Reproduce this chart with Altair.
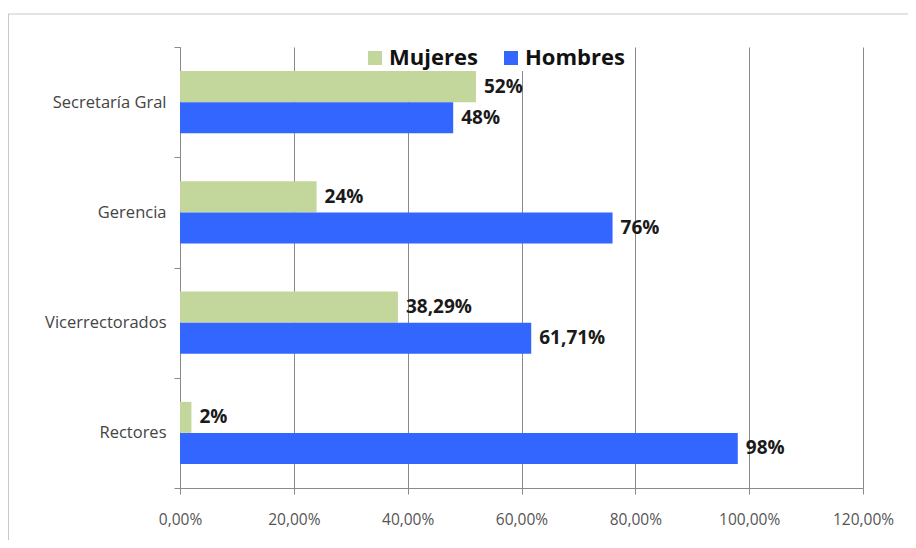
import altair as alt
import pandas as pd

categories = ["Secretaría Gral", "Gerencia", "Vicerrectorados", "Rectores"]
mujeres = [52, 24, 38.29, 2]
hombres = [48, 76, 61.71, 98]
series = ["Mujeres", "Hombres"]
colors = ["#c3d69b", "#3366ff"]
x_ticks = [0, 0.2, 0.4, 0.6, 0.8, 1.0, 1.2]

FONT = "Open Sans"


def fmt(v):
    if float(v).is_integer():
        return f"{int(v)}%"
    return f"{v:.2f}".replace(".", ",") + "%"


rows = []
for c, m, h in zip(categories, mujeres, hombres):
    rows.append(dict(cat=c, serie="Mujeres", value=m / 100, label=fmt(m)))
    rows.append(dict(cat=c, serie="Hombres", value=h / 100, label=fmt(h)))
df = pd.DataFrame(rows)

x_enc = alt.X(
    "value:Q",
    title=None,
    scale=alt.Scale(domain=[0, 1.2], nice=False),
    axis=alt.Axis(
        values=x_ticks,
        labelExpr="replace(format(datum.value, '.2%'), '.', ',')",
        labelFlush=False,
        grid=True,
        gridColor="#8a8a8a",
        gridWidth=1,
        domainColor="#8a8a8a",
        tickColor="#8a8a8a",
        tickSize=6,
        labelPadding=18,
        labelFont=FONT,
        labelFontSize=15.5,
        labelColor="#555555",
    ),
)
y_enc = alt.Y(
    "cat:N",
    sort=categories,
    title=None,
    scale=alt.Scale(paddingInner=0, paddingOuter=0),
    axis=alt.Axis(
        tickBand="extent",
        grid=False,
        domainColor="#8a8a8a",
        tickColor="#8a8a8a",
        tickSize=6,
        labelPadding=8,
        labelFont=FONT,
        labelFontSize=16.5,
        labelColor="#444444",
    ),
)
yoff = alt.YOffset(
    "serie:N",
    sort=series,
    scale=alt.Scale(domain=series, paddingInner=0, paddingOuter=0.778),
)

base = alt.Chart(df)

bars = base.mark_bar().encode(
    x=x_enc,
    y=y_enc,
    yOffset=yoff,
    color=alt.Color(
        "serie:N",
        scale=alt.Scale(domain=series, range=colors),
        legend=alt.Legend(
            orient="none",
            legendX=182,
            legendY=-2,
            direction="horizontal",
            title=None,
            symbolType="square",
            symbolSize=196,
            symbolStrokeWidth=0,
            labelFontSize=22,
            labelFontWeight="bold",
            labelFont=FONT,
            labelColor="#111111",
            fillColor="white",
            padding=2,
            columnPadding=22,
            labelOffset=3,
        ),
    ),
)

labels = base.mark_text(
    align="left", baseline="middle", dx=8, font=FONT, fontSize=19,
    fontWeight="bold", color="#1a1a1a"
).encode(
    x=alt.X("value:Q"),
    y=alt.Y("cat:N", sort=categories),
    yOffset=yoff,
    text="label:N",
)

frame_df = pd.DataFrame({"k": [0]})
frame_top = alt.Chart(frame_df).mark_rule(color="#c8c8c8", strokeWidth=1).encode(
    x=alt.value(-172), x2=alt.value(740), y=alt.value(-33)
)
frame_left = alt.Chart(frame_df).mark_rule(color="#c8c8c8", strokeWidth=1).encode(
    x=alt.value(-171.5), y=alt.value(-33), y2=alt.value(495)
)

chart = (
    alt.layer(frame_top, frame_left, bars, labels)
    .properties(
        width=683,
        height=441,
        autosize=alt.AutoSizeParams(type="none"),
        padding={"left": 172, "top": 39, "right": 45, "bottom": 52},
        background="white",
    )
    .configure_view(stroke=None)
)

chart.save("out.html", embed_options={"renderer": "svg", "actions": False})
